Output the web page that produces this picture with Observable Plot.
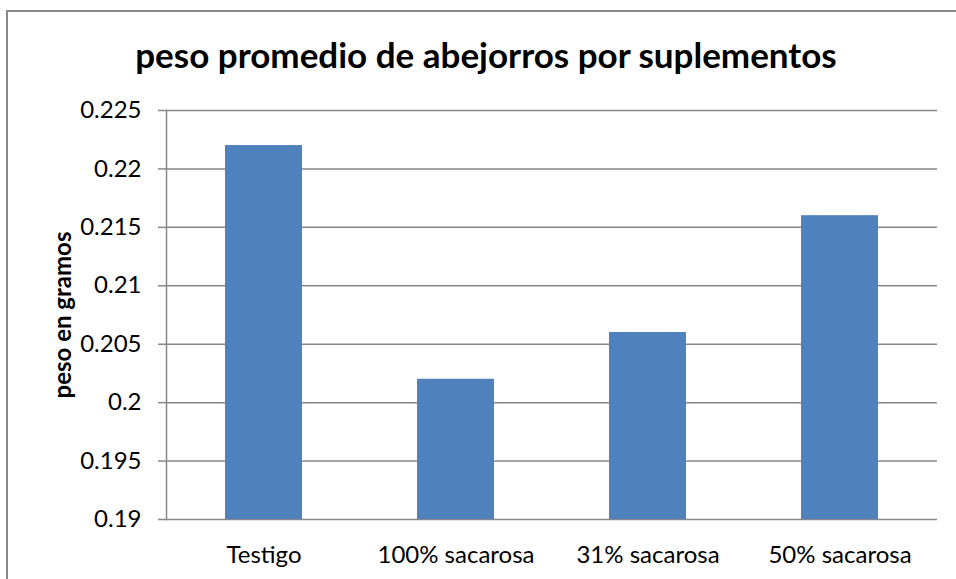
<!DOCTYPE html>
<html><head><meta charset="utf-8">
<script src="https://cdn.jsdelivr.net/npm/d3@7"></script>
<script src="https://cdn.jsdelivr.net/npm/@observablehq/plot@0.6"></script>
<style>
html,body{margin:0;padding:0;background:#fff;overflow:hidden;}
#wrap{position:relative;width:956px;height:579px;font-family:Lato,"Open Sans",sans-serif;}
#frame{position:absolute;left:6px;top:10px;width:960px;height:600px;border:2px solid #898989;box-sizing:border-box;}
#title{position:absolute;left:0;top:34px;width:972px;text-align:center;font-weight:bold;font-size:35px;line-height:40px;color:#000;}
#ylab{position:absolute;left:61px;top:315px;transform:translate(-50%,-50%) rotate(-90deg);font-weight:bold;font-size:24px;white-space:nowrap;}
#chart{position:absolute;left:0;top:0;}
</style></head>
<body><div id="wrap"><div id="frame"></div><div id="chart"></div><div id="title">peso promedio de abejorros por suplementos</div><div id="ylab">peso en gramos</div></div>
<script>
const categories = ["Testigo", "100% sacarosa", "31% sacarosa", "50% sacarosa"];
const values = [0.222, 0.202, 0.206, 0.216];
const yTicks = [0.19, 0.195, 0.2, 0.205, 0.21, 0.215, 0.22, 0.225];
const data = categories.map((c, i) => ({cat: c, v: values[i]}));
const fmt = d => String(+d.toFixed(3));
const chart = Plot.plot({
  width: 956, height: 579,
  marginLeft: 166, marginRight: 19, marginTop: 110, marginBottom: 60,
  style: {fontFamily: "Lato, 'Open Sans', sans-serif", fontSize: "24px", color: "#000", background: "transparent"},
  x: {domain: categories, paddingInner: 0.6, paddingOuter: 0.3, label: null},
  y: {domain: [0.19, 0.225], label: null},
  marks: [
    Plot.gridY(yTicks, {stroke: "#878787", strokeOpacity: 1, strokeWidth: 1.5}),
    Plot.barY(data, {x: "cat", y1: () => 0.19, y2: "v", fill: "#4F81BD"}),
    Plot.axisY({ticks: yTicks, tickSize: 8, tickPadding: 17, tickFormat: fmt, stroke: "#878787", strokeWidth: 1.5, label: null, fontSize: 24}),
    Plot.frame({anchor: "left", stroke: "#878787", strokeWidth: 1.5}),
    Plot.axisX({tickSize: 0, tickPadding: 26, label: null, fontSize: 24})
  ]
});
document.getElementById("chart").appendChild(chart);
</script></body></html>
